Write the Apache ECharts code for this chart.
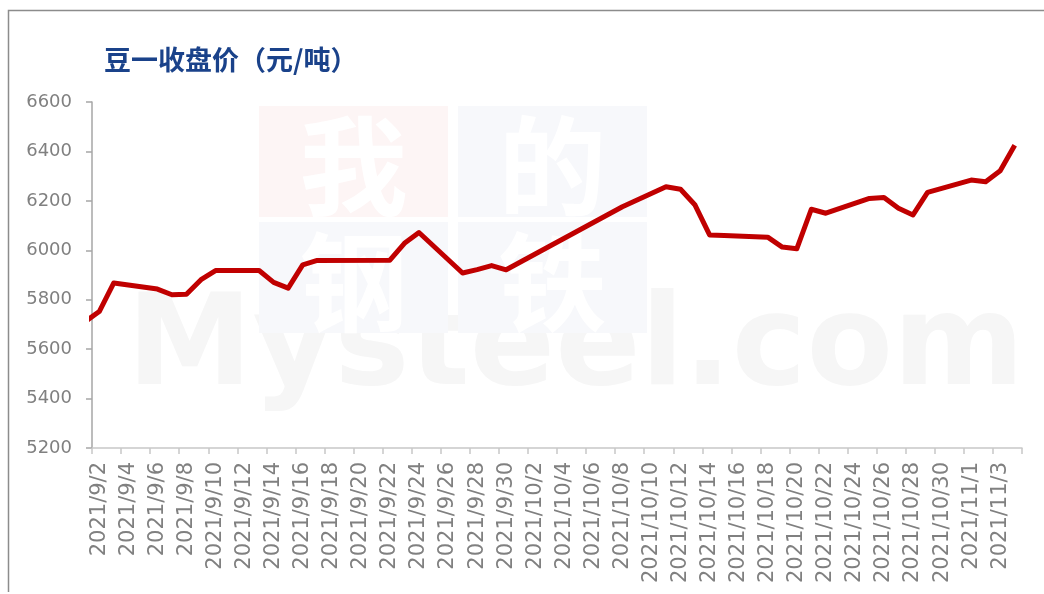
<!DOCTYPE html>
<html>
<head>
<meta charset="utf-8">
<script src="https://cdn.jsdelivr.net/npm/echarts@6/dist/echarts.min.js"></script>
<style>
html, body { margin: 0; padding: 0; background: #fff; }
#chart { width: 1044px; height: 594px; }
</style>
</head>
<body>
<div id="chart"></div>
<script>
// calendar axis: every day from 2021/9/2 to 2021/11/4
const axisStart = '2021-09-02';
const axisDays = 64;

// trading days and closing prices (9/1 is only partly visible at the left edge)
const tradeDates = [
  '2021-09-01', '2021-09-02', '2021-09-03', '2021-09-06', '2021-09-07', '2021-09-08', '2021-09-09', '2021-09-10',
  '2021-09-13', '2021-09-14', '2021-09-15', '2021-09-16', '2021-09-17',
  '2021-09-22', '2021-09-23', '2021-09-24', '2021-09-27', '2021-09-28', '2021-09-29', '2021-09-30',
  '2021-10-08', '2021-10-11', '2021-10-12', '2021-10-13', '2021-10-14', '2021-10-15',
  '2021-10-18', '2021-10-19', '2021-10-20', '2021-10-21', '2021-10-22',
  '2021-10-25', '2021-10-26', '2021-10-27', '2021-10-28', '2021-10-29',
  '2021-11-01', '2021-11-02', '2021-11-03', '2021-11-04'
];
const closes = [
  5710, 5752, 5868, 5843, 5820, 5822, 5881, 5918,
  5918, 5870, 5847, 5941, 5959,
  5960, 6028, 6072, 5908, 5922, 5938, 5921,
  6176, 6257, 6247, 6183, 6062, 6060,
  6053, 6013, 6006, 6166, 6150,
  6210, 6214, 6170, 6143, 6234,
  6284, 6277, 6322, 6425
];

const yMin = 5200, yMax = 6600, yStep = 200;

const DAY = 86400000;
const t0 = Date.parse(axisStart + 'T00:00:00Z');
const categories = [];
for (let i = 0; i < axisDays; i++) {
  const d = new Date(t0 + i * DAY);
  categories.push(d.getUTCFullYear() + '/' + (d.getUTCMonth() + 1) + '/' + d.getUTCDate());
}
const points = tradeDates.map((s, i) => [Math.round((Date.parse(s + 'T00:00:00Z') - t0) / DAY), closes[i]]);

const chart = echarts.init(document.getElementById('chart'));

const tile = (x, y, w, h, fill, ch) => ({
  type: 'group', silent: true, z: -10,
  children: [
    { type: 'rect', shape: { x: x, y: y, width: w, height: h }, style: { fill: fill } },
    { type: 'text', style: { x: x + w / 2, y: y + h / 2 + 4, text: ch, align: 'center', verticalAlign: 'middle',
      font: 'bold 108px "Noto Sans CJK SC"', fill: '#ffffff' } }
  ]
});

chart.setOption({
  animation: false,
  backgroundColor: '#ffffff',
  title: {
    text: '豆一收盘价（元/吨）',
    left: 104, top: 46, padding: 0,
    textStyle: { color: '#1a428a', fontSize: 27, fontWeight: 'bold', fontFamily: '"Noto Sans CJK SC"' }
  },
  graphic: [
    { type: 'polyline', silent: true, shape: { points: [[8.5, 592], [8.5, 10.5], [1044, 10.5]] },
      style: { stroke: '#8c8c8c', lineWidth: 1.5, fill: null } },
    { type: 'text', silent: true, z: -20,
      style: { x: 127, y: 351, text: 'Mysteel.com', verticalAlign: 'middle',
        font: 'bold 126px "DejaVu Sans"', fill: '#f6f6f6' } },
    tile(259, 106, 189, 111, '#fdf5f5', '我'),
    tile(458, 106, 189, 111, '#f7f8fb', '的'),
    tile(259, 222, 189, 111, '#f7f8fb', '钢'),
    tile(458, 222, 189, 111, '#f7f8fb', '铁')
  ],
  grid: { left: 92, right: 22, top: 102, bottom: 146, containLabel: false },
  xAxis: [
    {
      type: 'category',
      data: categories,
      boundaryGap: true,
      axisLine: { lineStyle: { color: '#c8c8c8', width: 1.5 } },
      axisTick: { show: true, interval: 1, length: 6, lineStyle: { color: '#c8c8c8', width: 1.5 } },
      axisLabel: { interval: 1, rotate: 90, margin: 14, color: '#808080', fontSize: 21, fontFamily: '"DejaVu Sans"' },
      splitLine: { show: false }
    },
    {
      type: 'value', show: false, min: -0.5, max: axisDays - 0.5,
      splitLine: { show: false }
    }
  ],
  yAxis: {
    type: 'value',
    min: yMin, max: yMax, interval: yStep,
    axisLine: { show: true, onZero: false, lineStyle: { color: '#a6a6a6', width: 1.5 } },
    axisTick: { show: true, length: 6, lineStyle: { color: '#a6a6a6', width: 1.5 } },
    axisLabel: { margin: 20, color: '#808080', fontSize: 18, fontFamily: '"DejaVu Sans"', formatter: v => String(v) },
    splitLine: { show: false }
  },
  series: [{
    type: 'line',
    xAxisIndex: 1,
    data: points,
    clip: true,
    symbol: 'none',
    lineStyle: { color: '#c00000', width: 5, join: 'round' },
    z: 5
  }]
});
</script>
</body>
</html>
